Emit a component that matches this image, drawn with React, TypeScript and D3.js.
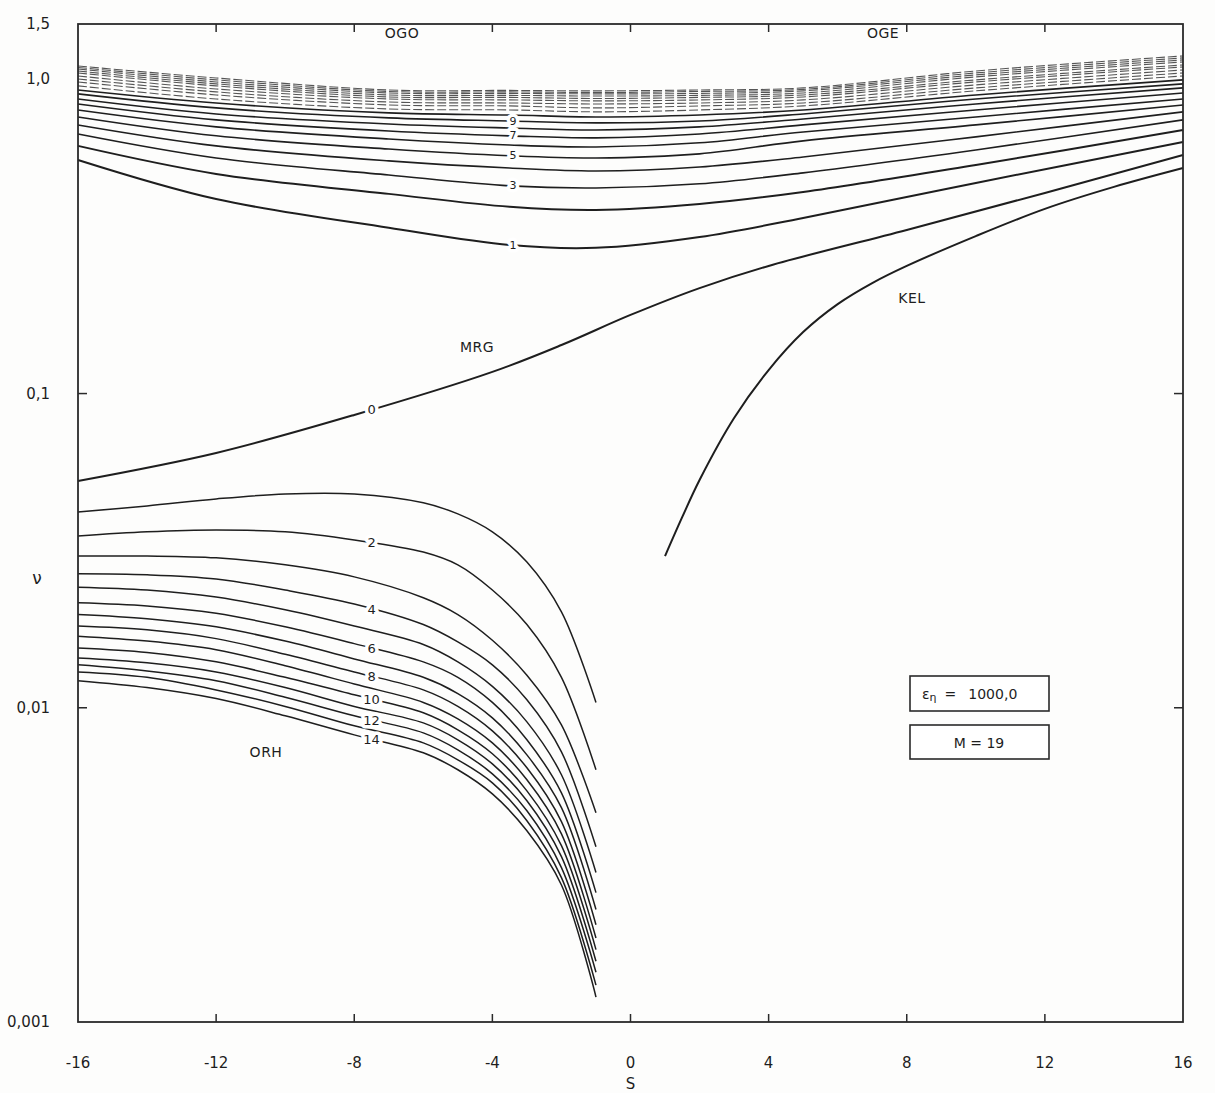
import React from "react";
import * as d3 from "d3";

// ---------- data ----------
// Inertia-gravity modes (OGO / OGE), n = 1..19
const S_GRAV = [-16, -12, -7, -3.5, -1, 2, 5, 10, 16];
const GRAV_MODES = [1, 2, 3, 4, 5, 6, 7, 8, 9, 10, 11, 12, 13, 14, 15, 16, 17, 18, 19];
const GRAV_V = [
  [0.554, 0.416, 0.337, 0.297, 0.291, 0.315, 0.362, 0.468, 0.632],
  [0.614, 0.5, 0.432, 0.393, 0.384, 0.401, 0.438, 0.534, 0.69],
  [0.67, 0.562, 0.496, 0.458, 0.451, 0.465, 0.504, 0.596, 0.743],
  [0.716, 0.614, 0.55, 0.522, 0.511, 0.526, 0.566, 0.656, 0.788],
  [0.759, 0.661, 0.6, 0.571, 0.562, 0.579, 0.637, 0.716, 0.829],
  [0.799, 0.706, 0.646, 0.618, 0.609, 0.628, 0.68, 0.759, 0.866],
  [0.835, 0.743, 0.685, 0.661, 0.651, 0.67, 0.716, 0.799, 0.905],
  [0.866, 0.776, 0.721, 0.7, 0.69, 0.706, 0.748, 0.835, 0.939],
  [0.899, 0.811, 0.754, 0.737, 0.727, 0.737, 0.776, 0.866, 0.967],
  [0.925, 0.841, 0.782, 0.77, 0.759, 0.77, 0.799, 0.892, 0.996],
  [0.953, 0.866, 0.805, 0.799, 0.788, 0.799, 0.823, 0.919, 1.025],
  [0.981, 0.892, 0.829, 0.823, 0.811, 0.823, 0.841, 0.939, 1.048],
  [1.003, 0.912, 0.847, 0.841, 0.835, 0.841, 0.86, 0.96, 1.071],
  [1.025, 0.932, 0.866, 0.86, 0.854, 0.86, 0.879, 0.981, 1.095],
  [1.048, 0.953, 0.879, 0.876, 0.869, 0.876, 0.892, 0.996, 1.111],
  [1.063, 0.967, 0.892, 0.889, 0.885, 0.889, 0.905, 1.018, 1.136],
  [1.079, 0.981, 0.905, 0.902, 0.899, 0.902, 0.919, 1.033, 1.153],
  [1.091, 0.996, 0.915, 0.912, 0.908, 0.915, 0.929, 1.048, 1.17],
  [1.103, 1.01, 0.925, 0.922, 0.919, 0.925, 0.939, 1.063, 1.187],
];
const GRAV_LABELLED = [1, 3, 5, 7, 9];
const GRAV_LABEL_S = -3.4;

// Rossby-Haurwitz modes (ORH), n = 1..14
const S_ROSSBY = [-16, -14, -12, -10, -8, -6, -5, -4, -3, -2, -1];
const ROSSBY_MODES = [1, 2, 3, 4, 5, 6, 7, 8, 9, 10, 11, 12, 13, 14];
const ROSSBY_V = [
  [0.042, 0.0439, 0.0462, 0.0479, 0.0479, 0.0449, 0.0414, 0.0363, 0.0291, 0.0202, 0.0104],
  [0.0352, 0.0363, 0.0368, 0.0363, 0.0342, 0.0313, 0.0285, 0.0237, 0.0184, 0.0125, 0.00635],
  [0.0304, 0.0304, 0.03, 0.0285, 0.0261, 0.0224, 0.0198, 0.0164, 0.0127, 0.00882, 0.00463],
  [0.0267, 0.0265, 0.0257, 0.0237, 0.0214, 0.0184, 0.0162, 0.0137, 0.0106, 0.00724, 0.00361],
  [0.0242, 0.0237, 0.0225, 0.0205, 0.0182, 0.0159, 0.014, 0.0117, 0.00902, 0.00612, 0.00299],
  [0.0216, 0.0211, 0.02, 0.0181, 0.016, 0.014, 0.0125, 0.0104, 0.00791, 0.00536, 0.00258],
  [0.0198, 0.0192, 0.0181, 0.0163, 0.0143, 0.0125, 0.0111, 0.00929, 0.00708, 0.00481, 0.00228],
  [0.0182, 0.0177, 0.0166, 0.0148, 0.013, 0.0114, 0.0101, 0.00844, 0.00644, 0.00434, 0.00204],
  [0.0169, 0.0163, 0.0153, 0.0136, 0.0119, 0.0104, 0.00922, 0.00773, 0.0059, 0.00397, 0.00185],
  [0.0155, 0.015, 0.014, 0.0125, 0.011, 0.00964, 0.00851, 0.00714, 0.00544, 0.00364, 0.0017],
  [0.0144, 0.0139, 0.013, 0.0116, 0.0101, 0.00895, 0.00791, 0.00663, 0.00506, 0.00336, 0.00156],
  [0.0137, 0.0131, 0.0122, 0.0108, 0.00943, 0.00832, 0.00735, 0.00616, 0.0047, 0.0031, 0.00144],
  [0.013, 0.0125, 0.0114, 0.0101, 0.00876, 0.00773, 0.00683, 0.00577, 0.00437, 0.00288, 0.00131],
  [0.0122, 0.0116, 0.0107, 0.00943, 0.0082, 0.00719, 0.00635, 0.00532, 0.00406, 0.00273, 0.0012],
];
const ROSSBY_LABELLED = [2, 4, 6, 8, 10, 12, 14];
const ROSSBY_LABEL_S = -7.5;

// Mixed Rossby-gravity mode (n = 0)
const S_MRG = [-16, -12, -8, -4, -2, 0, 2, 4, 8, 12, 16];
const MRG_V = [0.0527, 0.0647, 0.0855, 0.1172, 0.1427, 0.1779, 0.2166, 0.2548, 0.3316, 0.435, 0.5744];
const MRG_LABEL_S = -7.5;

// Kelvin mode
const S_KEL = [1, 1.5, 2, 3, 4, 5, 6, 7, 8, 10, 12, 14, 16];
const KEL_V = [0.0304, 0.0405, 0.0531, 0.0836, 0.1188, 0.1569, 0.1926, 0.2247, 0.2548, 0.317, 0.387, 0.4546, 0.522];

// Axes
const X_TICKS = [-16, -12, -8, -4, 0, 4, 8, 12, 16];
const X_TICK_LABELS = ["-16", "-12", "-8", "-4", "0", "4", "8", "12", "16"];
const Y_TICKS = [0.001, 0.01, 0.1, 1.0, 1.5];
const Y_TICK_LABELS = ["0,001", "0,01", "0,1", "1,0", "1,5"];
const Y_INNER_TICKS = [0.01, 0.1];

// ---------- layout ----------
const W = 1215;
const H = 1093;
const LEFT = 78;
const RIGHT = 1183;
const TOP = 24;
const BOTTOM = 1022;
const INK = "#1e1e1e";
const FONT = "'DejaVu Sans', 'Liberation Sans', sans-serif";

function valueAt(xs: number[], vs: number[], s: number): number {
  for (let i = 0; i < xs.length - 1; i++) {
    if (s >= xs[i] && s <= xs[i + 1]) {
      const t = (s - xs[i]) / (xs[i + 1] - xs[i]);
      return Math.pow(10, Math.log10(vs[i]) * (1 - t) + Math.log10(vs[i + 1]) * t);
    }
  }
  return vs[vs.length - 1];
}

export default function App() {
  const x = d3.scaleLinear().domain([-16, 16]).range([LEFT, RIGHT]);
  const y = d3.scaleLog().domain([0.001, 1.5]).range([BOTTOM, TOP]);
  const line = d3
    .line<[number, number]>()
    .x((d) => x(d[0]))
    .y((d) => y(d[1]))
    .curve(d3.curveCatmullRom.alpha(0.5));

  const mk = (xs: number[], vs: number[]) =>
    line(xs.map((s, i) => [s, vs[i]] as [number, number])) || "";

  const curveLabel = (key: string, txt: string, s: number, v: number, size: number) => (
    <text
      key={key}
      x={x(s)}
      y={y(v)}
      textAnchor="middle"
      dominantBaseline="central"
      fontSize={size}
      fontFamily={FONT}
      fill={INK}
      stroke="#fff"
      strokeWidth={7}
      paintOrder="stroke"
      strokeLinejoin="round"
    >
      {txt}
    </text>
  );

  return (
    <svg
      width={W}
      height={H}
      viewBox={`0 0 ${W} ${H}`}
      style={{ position: "absolute", left: 0, top: 0, background: "#fff" }}
    >
      <rect x={0} y={0} width={W} height={H} fill="#fdfdfc" />

      {/* gravity modes */}
      {GRAV_V.map((vs, i) => {
        const n = GRAV_MODES[i];
        const faint = n >= 11;
        return (
          <path
            key={"g" + n}
            d={mk(S_GRAV, vs)}
            fill="none"
            stroke={faint ? "#555" : INK}
            strokeWidth={n <= 2 ? 2 : faint ? 1.1 : 1.6}
            strokeDasharray={faint ? "9 3" : undefined}
          />
        );
      })}

      {/* Rossby modes */}
      {ROSSBY_V.map((vs, i) => (
        <path
          key={"r" + ROSSBY_MODES[i]}
          d={mk(S_ROSSBY, vs)}
          fill="none"
          stroke={INK}
          strokeWidth={1.5}
        />
      ))}

      {/* MRG & Kelvin */}
      <path d={mk(S_MRG, MRG_V)} fill="none" stroke={INK} strokeWidth={2} />
      <path d={mk(S_KEL, KEL_V)} fill="none" stroke={INK} strokeWidth={2} />

      {/* curve labels */}
      {GRAV_LABELLED.map((n) =>
        curveLabel("gl" + n, String(n), GRAV_LABEL_S, valueAt(S_GRAV, GRAV_V[n - 1], GRAV_LABEL_S), 11)
      )}
      {ROSSBY_LABELLED.map((n) =>
        curveLabel("rl" + n, String(n), ROSSBY_LABEL_S, valueAt(S_ROSSBY, ROSSBY_V[n - 1], ROSSBY_LABEL_S), 13)
      )}
      {curveLabel("mrg0", "0", MRG_LABEL_S, valueAt(S_MRG, MRG_V, MRG_LABEL_S), 13)}

      {/* frame */}
      <rect
        x={LEFT}
        y={TOP}
        width={RIGHT - LEFT}
        height={BOTTOM - TOP}
        fill="none"
        stroke="#2a2a2a"
        strokeWidth={1.8}
      />
      {X_TICKS.slice(1, -1).map((s) => (
        <g key={"xt" + s}>
          <line x1={x(s)} x2={x(s)} y1={TOP} y2={TOP + 8} stroke="#2a2a2a" strokeWidth={1.5} />
          <line x1={x(s)} x2={x(s)} y1={BOTTOM} y2={BOTTOM - 8} stroke="#2a2a2a" strokeWidth={1.5} />
        </g>
      ))}
      {Y_INNER_TICKS.map((v) => (
        <g key={"yt" + v}>
          <line x1={LEFT} x2={LEFT + 9} y1={y(v)} y2={y(v)} stroke="#2a2a2a" strokeWidth={1.5} />
          <line x1={RIGHT} x2={RIGHT - 9} y1={y(v)} y2={y(v)} stroke="#2a2a2a" strokeWidth={1.5} />
        </g>
      ))}

      {/* tick labels */}
      {X_TICKS.map((s, i) => (
        <text
          key={"xl" + s}
          x={x(s)}
          y={1068}
          textAnchor="middle"
          fontSize={15}
          fontFamily={FONT}
          fill={INK}
        >
          {X_TICK_LABELS[i]}
        </text>
      ))}
      {Y_TICKS.map((v, i) => (
        <text
          key={"yl" + v}
          x={50}
          y={y(v)}
          textAnchor="end"
          dominantBaseline="central"
          fontSize={15}
          fontFamily={FONT}
          fill={INK}
        >
          {Y_TICK_LABELS[i]}
        </text>
      ))}

      {/* axis titles */}
      <text x={37} y={578} textAnchor="middle" dominantBaseline="central" fontSize={17} fontFamily={FONT} fill={INK}>
        ν
      </text>
      <text x={x(0)} y={1089} textAnchor="middle" fontSize={15} fontFamily={FONT} fill={INK}>
        S
      </text>

      {/* region labels */}
      {[
        ["OGO", 402, 33],
        ["OGE", 883, 33],
        ["KEL", 912, 298],
        ["MRG", 477, 347],
        ["ORH", 266, 752],
      ].map(([t, px, py]) => (
        <text
          key={t as string}
          x={px as number}
          y={py as number}
          textAnchor="middle"
          dominantBaseline="central"
          fontSize={14}
          fontFamily={FONT}
          fill={INK}
          letterSpacing={0.5}
        >
          {t}
        </text>
      ))}

      {/* parameter boxes */}
      <rect x={910} y={676} width={139} height={35} fill="#fff" stroke="#2a2a2a" strokeWidth={1.6} />
      <text x={922} y={694} dominantBaseline="central" fontSize={14} fontFamily={FONT} fill={INK}>
        ε
        <tspan fontSize={11} dy={3}>η</tspan>
        <tspan dy={-3} dx={8}>=</tspan>
        <tspan dx={12}>1000,0</tspan>
      </text>
      <rect x={910} y={725} width={139} height={34} fill="#fff" stroke="#2a2a2a" strokeWidth={1.6} />
      <text x={979} y={743} textAnchor="middle" dominantBaseline="central" fontSize={14} fontFamily={FONT} fill={INK}>
        M = 19
      </text>
    </svg>
  );
}
